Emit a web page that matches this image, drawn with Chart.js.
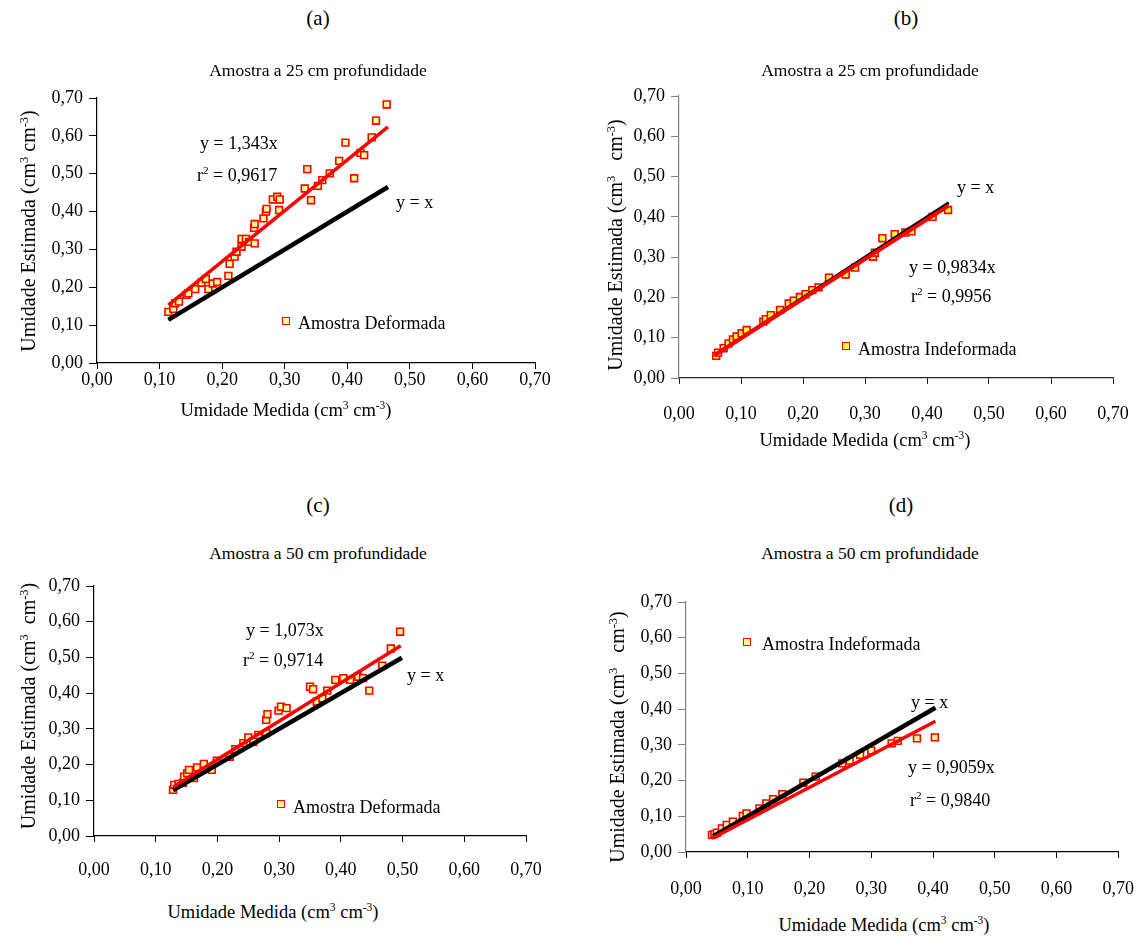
<!DOCTYPE html>
<html><head><meta charset="utf-8">
<script src="https://cdn.jsdelivr.net/npm/chart.js@4"></script>
<style>
body{margin:0;background:#fff;}
#wrap{position:relative;width:1148px;height:937px;overflow:hidden;font-family:'Liberation Serif','Times New Roman',serif;color:#000;background:#fff;}
canvas{position:absolute;}
.t{position:absolute;white-space:nowrap;transform:translate(-50%,-50%);}
.l{position:absolute;white-space:nowrap;transform:translateY(-50%);}
.v{position:absolute;white-space:nowrap;transform:translate(-50%,-50%) rotate(-90deg);}
.s{font-size:0.62em;position:relative;top:-0.6em;}
.mk{position:absolute;width:6px;height:6px;border:1.5px solid #ff0000;transform:translate(-50%,-50%);}
</style>
</head><body>
<div id="wrap">
<canvas id="ca"></canvas><canvas id="cb"></canvas><canvas id="cc"></canvas><canvas id="cd"></canvas>

<div class="t" style="left:318px;top:18px;font-size:21px">(a)</div>
<div class="t" style="left:318px;top:70px;font-size:17.5px">Amostra a 25 cm profundidade</div>
<div class="t" style="left:906px;top:18px;font-size:21px">(b)</div>
<div class="t" style="left:870px;top:70px;font-size:17.5px">Amostra a 25 cm profundidade</div>
<div class="t" style="left:318px;top:505px;font-size:21px">(c)</div>
<div class="t" style="left:318px;top:553px;font-size:17.5px">Amostra a 50 cm profundidade</div>
<div class="t" style="left:901px;top:505px;font-size:21px">(d)</div>
<div class="t" style="left:870px;top:553px;font-size:17.5px">Amostra a 50 cm profundidade</div>

<div class="t" style="left:286px;top:410px;font-size:18.5px">Umidade Medida (cm<span class="s">3</span> cm<span class="s">-3</span>)</div>
<div class="t" style="left:865px;top:440px;font-size:18.5px">Umidade Medida (cm<span class="s">3</span> cm<span class="s">-3</span>)</div>
<div class="t" style="left:273px;top:912px;font-size:18.5px">Umidade Medida (cm<span class="s">3</span> cm<span class="s">-3</span>)</div>
<div class="t" style="left:884px;top:925px;font-size:18.5px">Umidade Medida (cm<span class="s">3</span> cm<span class="s">-3</span>)</div>

<div class="v" style="left:28px;top:231px;font-size:20px">Umidade Estimada (cm<span class="s">3</span> cm<span class="s">-3</span>)</div>
<div class="v" style="left:615px;top:245px;font-size:20px">Umidade Estimada (cm<span class="s">3</span>&nbsp;&nbsp; cm<span class="s">-3</span>)</div>
<div class="v" style="left:28px;top:706px;font-size:20px">Umidade Estimada (cm<span class="s">3</span> &nbsp;cm<span class="s">-3</span>)</div>
<div class="v" style="left:617px;top:737px;font-size:20px">Umidade Estimada (cm<span class="s">3</span>&nbsp;&nbsp; cm<span class="s">-3</span>)</div>

<div class="l" style="left:200px;top:143px;font-size:18px">y = 1,343x</div>
<div class="l" style="left:197px;top:175px;font-size:18px">r<span class="s">2</span> = 0,9617</div>
<div class="l" style="left:396px;top:202px;font-size:18px">y = x</div>
<div class="mk" style="left:286px;top:321px;background:#ffff99"></div>
<div class="l" style="left:298px;top:323px;font-size:18px">Amostra Deformada</div>

<div class="l" style="left:957px;top:187px;font-size:18px">y = x</div>
<div class="l" style="left:909px;top:267px;font-size:18px">y = 0,9834x</div>
<div class="l" style="left:911px;top:296px;font-size:18px">r<span class="s">2</span> = 0,9956</div>
<div class="mk" style="left:846px;top:346px;background:#ffff33"></div>
<div class="l" style="left:858px;top:349px;font-size:18px">Amostra Indeformada</div>

<div class="l" style="left:246px;top:630px;font-size:18px">y = 1,073x</div>
<div class="l" style="left:243px;top:660px;font-size:18px">r<span class="s">2</span> = 0,9714</div>
<div class="l" style="left:407px;top:675px;font-size:18px">y = x</div>
<div class="mk" style="left:281px;top:804px;background:#ffff99"></div>
<div class="l" style="left:293px;top:807px;font-size:18px">Amostra Deformada</div>

<div class="mk" style="left:747px;top:642px;background:#ffff99"></div>
<div class="l" style="left:762px;top:644px;font-size:18px">Amostra Indeformada</div>
<div class="l" style="left:911px;top:702px;font-size:18px">y = x</div>
<div class="l" style="left:908px;top:767px;font-size:18px">y = 0,9059x</div>
<div class="l" style="left:910px;top:800px;font-size:18px">r<span class="s">2</span> = 0,9840</div>
</div>
<script>
// tick labels
const xTickLabels = ['0,00','0,10','0,20','0,30','0,40','0,50','0,60','0,70'];
const yTickLabels = ['0,00','0,10','0,20','0,30','0,40','0,50','0,60','0,70'];

// (a) Amostra Deformada, 25 cm
const aMedida   = [0.114,0.122,0.125,0.131,0.143,0.146,0.157,0.167,0.174,0.178,0.185,0.192,0.210,0.212,0.220,0.223,0.231,0.231,0.238,0.243,0.252,0.251,0.252,0.266,0.270,0.271,0.281,0.288,0.292,0.291,0.332,0.336,0.342,0.353,0.360,0.372,0.387,0.397,0.411,0.421,0.427,0.439,0.446,0.463];
const aEstimada = [0.135,0.143,0.158,0.162,0.180,0.184,0.195,0.212,0.222,0.195,0.210,0.214,0.230,0.262,0.281,0.294,0.307,0.328,0.328,0.320,0.316,0.357,0.367,0.382,0.400,0.407,0.432,0.439,0.432,0.404,0.461,0.512,0.430,0.468,0.483,0.501,0.534,0.582,0.488,0.555,0.549,0.596,0.640,0.683];
const aFitX = [0.114,0.465], aFitY = [0.153,0.624];
const aIdX  = [0.114,0.465], aIdY  = [0.114,0.465];

// (b) Amostra Indeformada, 25 cm
const bMedida   = [0.060,0.063,0.072,0.080,0.087,0.093,0.101,0.109,0.136,0.140,0.148,0.163,0.177,0.185,0.195,0.204,0.215,0.225,0.242,0.269,0.284,0.313,0.316,0.328,0.348,0.365,0.375,0.409,0.434];
const bEstimada = [0.055,0.063,0.074,0.086,0.096,0.103,0.111,0.119,0.140,0.146,0.156,0.169,0.185,0.192,0.201,0.208,0.218,0.225,0.249,0.257,0.274,0.301,0.311,0.347,0.357,0.361,0.364,0.400,0.417];
const bFitX = [0.058,0.435], bFitY = [0.057,0.428];
const bIdX  = [0.058,0.435], bIdY  = [0.058,0.435];

// (c) Amostra Deformada, 50 cm
const cMedida   = [0.128,0.130,0.137,0.144,0.146,0.151,0.154,0.162,0.167,0.178,0.191,0.199,0.220,0.229,0.242,0.250,0.258,0.266,0.279,0.281,0.279,0.299,0.303,0.312,0.350,0.355,0.361,0.370,0.378,0.391,0.404,0.415,0.428,0.436,0.446,0.467,0.481,0.496];
const cEstimada = [0.129,0.143,0.146,0.149,0.166,0.176,0.185,0.162,0.192,0.202,0.185,0.211,0.222,0.243,0.260,0.276,0.264,0.283,0.325,0.341,0.288,0.351,0.362,0.358,0.418,0.411,0.376,0.385,0.407,0.437,0.442,0.437,0.446,0.442,0.407,0.477,0.525,0.572];
const cFitX = [0.128,0.497], cFitY = [0.137,0.533];
const cIdX  = [0.128,0.499], cIdY  = [0.128,0.499];

// (d) Amostra Indeformada, 50 cm
const dMedida   = [0.042,0.046,0.050,0.058,0.066,0.076,0.092,0.098,0.119,0.130,0.141,0.156,0.190,0.210,0.253,0.265,0.282,0.300,0.333,0.343,0.374,0.403];
const dEstimada = [0.048,0.050,0.054,0.066,0.076,0.085,0.101,0.108,0.122,0.136,0.148,0.162,0.194,0.211,0.248,0.256,0.272,0.284,0.304,0.311,0.318,0.321];
const dFitX = [0.042,0.404], dFitY = [0.038,0.366];
const dIdX  = [0.044,0.404], dIdY  = [0.044,0.404];

const FONT = "'Liberation Serif','Times New Roman',serif";
const pairs = (xs, ys) => xs.map((x, i) => ({x: x, y: ys[i]}));

function panel(id, box, pts, fit, ident, st) {
  const L = 75, T = 20, R = 35, B = 60;
  const W = box.r - box.l + L + R, H = box.b - box.t + T + B;
  const cv = document.getElementById(id);
  cv.width = W; cv.height = H;
  cv.style.left = (box.l - L) + 'px'; cv.style.top = (box.t - T) + 'px';
  cv.style.width = W + 'px'; cv.style.height = H + 'px';
  new Chart(cv, {
    type: 'scatter',
    data: { datasets: [
      { data: pts, order: 3, pointStyle: 'rect', pointRadius: 4.8, pointHoverRadius: 4.8,
        backgroundColor: st.fill, borderColor: '#ff0000', borderWidth: 1.6, showLine: false },
      { data: ident, order: 2, showLine: true, borderColor: '#000000', borderWidth: st.blackW, pointRadius: 0, fill: false },
      { data: fit, order: 1, showLine: true, borderColor: '#ff0000', borderWidth: st.redW, pointRadius: 0, fill: false }
    ]},
    options: {
      responsive: false, maintainAspectRatio: false, animation: false,
      devicePixelRatio: 1,
      layout: { padding: { left: 0, top: T, right: R, bottom: 0 } },
      plugins: { legend: { display: false }, tooltip: { enabled: false }, title: { display: false } },
      scales: {
        x: { type: 'linear', min: 0, max: 0.7,
          afterFit: s => { s.height = B; },
          border: { display: true, color: st.xAxisColor, width: 1.2 },
          grid: { display: true, drawOnChartArea: false, drawTicks: true, tickLength: 6, color: st.xAxisColor, tickColor: st.xAxisColor },
          ticks: { stepSize: 0.1, autoSkip: false, maxRotation: 0, padding: st.xPad, color: '#000',
            font: { family: FONT, size: 18 }, callback: (v, i) => xTickLabels[i] } },
        y: { type: 'linear', min: 0, max: 0.7,
          afterFit: s => { s.width = L; },
          border: { display: true, color: st.yAxisColor, width: 1.2 },
          grid: { display: true, drawOnChartArea: false, drawTicks: true, tickLength: 8, color: st.yAxisColor, tickColor: st.yAxisColor },
          ticks: { stepSize: 0.1, autoSkip: false, padding: 6, color: '#000',
            font: { family: FONT, size: 18 }, callback: (v, i) => yTickLabels[i] } }
      }
    }
  });
}

panel('ca', {l: 97, t: 98, r: 535, b: 363}, pairs(aMedida, aEstimada), pairs(aFitX, aFitY), pairs(aIdX, aIdY),
  {fill: '#ffff99', blackW: 4.5, redW: 3.5, xPad: 0, xAxisColor: '#000', yAxisColor: '#000'});
panel('cb', {l: 679, t: 96, r: 1113, b: 378}, pairs(bMedida, bEstimada), pairs(bFitX, bFitY), pairs(bIdX, bIdY),
  {fill: '#ffff33', blackW: 3, redW: 4, xPad: 19, xAxisColor: '#222', yAxisColor: '#808080'});
panel('cc', {l: 94, t: 586, r: 526, b: 836}, pairs(cMedida, cEstimada), pairs(cFitX, cFitY), pairs(cIdX, cIdY),
  {fill: '#ffff99', blackW: 4.5, redW: 3.5, xPad: 17, xAxisColor: '#000', yAxisColor: '#000'});
panel('cd', {l: 686, t: 602, r: 1119, b: 852}, pairs(dMedida, dEstimada), pairs(dFitX, dFitY), pairs(dIdX, dIdY),
  {fill: '#ffff99', blackW: 4.5, redW: 3.5, xPad: 20, xAxisColor: '#000', yAxisColor: '#808080'});
</script>
</body></html>
